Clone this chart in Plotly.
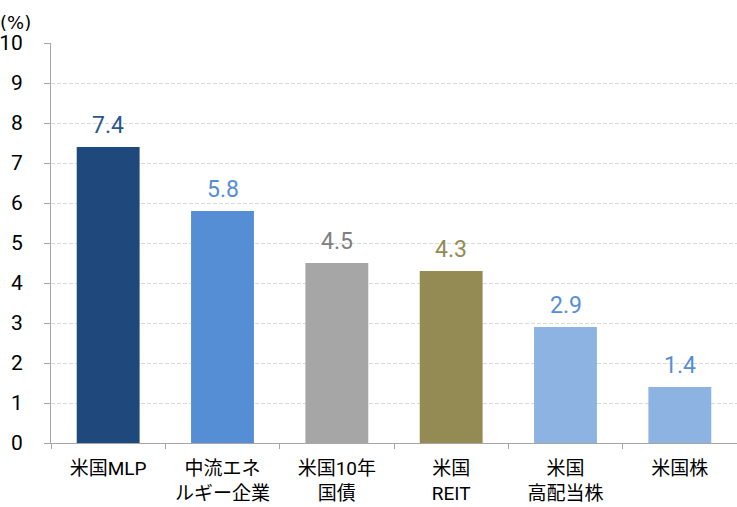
import plotly.graph_objects as go

categories = ["米国MLP", "中流エネ<br>ルギー企業", "米国10年<br>国債", "米国<br>REIT", "米国<br>高配当株", "米国株"]
values = [7.4, 5.8, 4.5, 4.3, 2.9, 1.4]
labels = ["7.4", "5.8", "4.5", "4.3", "2.9", "1.4"]
y_ticks = list(range(0, 11))

bar_colors = ["#1F497D", "#558ED5", "#A6A6A6", "#948A54", "#8DB3E2", "#8DB3E2"]
text_colors = ["#2A568C", "#558ED5", "#808080", "#948A54", "#558ED5", "#558ED5"]

fig = go.Figure(
    go.Bar(
        x=categories,
        y=values,
        marker=dict(color=bar_colors, line=dict(width=0)),
        width=0.55,
    )
)

# value labels above bars
for cat, val, lab, col in zip(categories, values, labels, text_colors):
    fig.add_annotation(
        x=cat,
        y=val,
        text=lab,
        showarrow=False,
        yanchor="bottom",
        yshift=6,
        font=dict(family="Roboto", size=23, color=col),
    )

fig.update_layout(
    width=737,
    height=507,
    margin=dict(l=51, r=0, t=43, b=64),
    plot_bgcolor="white",
    paper_bgcolor="white",
    showlegend=False,
    font=dict(family="Roboto, Noto Sans CJK JP", color="#000000"),
)

fig.update_xaxes(
    automargin=False,
    showline=True,
    linecolor="#A6A6A6",
    linewidth=1,
    ticks="outside",
    tickson="boundaries",
    ticklen=5,
    tickcolor="#A6A6A6",
    ticklabelstandoff=8,
    tickfont=dict(family="Roboto, Noto Sans CJK JP", size=19, color="#000000"),
    showgrid=False,
)

fig.update_yaxes(
    automargin=False,
    range=[0, 10],
    tickvals=y_ticks,
    showline=True,
    linecolor="#A6A6A6",
    linewidth=1,
    ticks="outside",
    ticklen=6,
    tickcolor="#A6A6A6",
    ticklabelstandoff=17,
    tickfont=dict(family="Roboto", size=21, color="#000000"),
    showgrid=True,
    gridcolor="#D9D9D9",
    griddash="4px,2px",
    zeroline=False,
)

fig.add_annotation(
    text="(%)",
    xref="paper",
    yref="paper",
    x=0,
    y=1.0,
    xshift=-53,
    yshift=8,
    xanchor="left",
    yanchor="bottom",
    showarrow=False,
    font=dict(family="DejaVu Sans", size=18, color="#000000"),
)

# drop the default page margin so the figure sits at the window corner
fig.write_html(
    "out.html",
    config={"displayModeBar": False},
    post_script="document.body.style.margin='0';",
)
